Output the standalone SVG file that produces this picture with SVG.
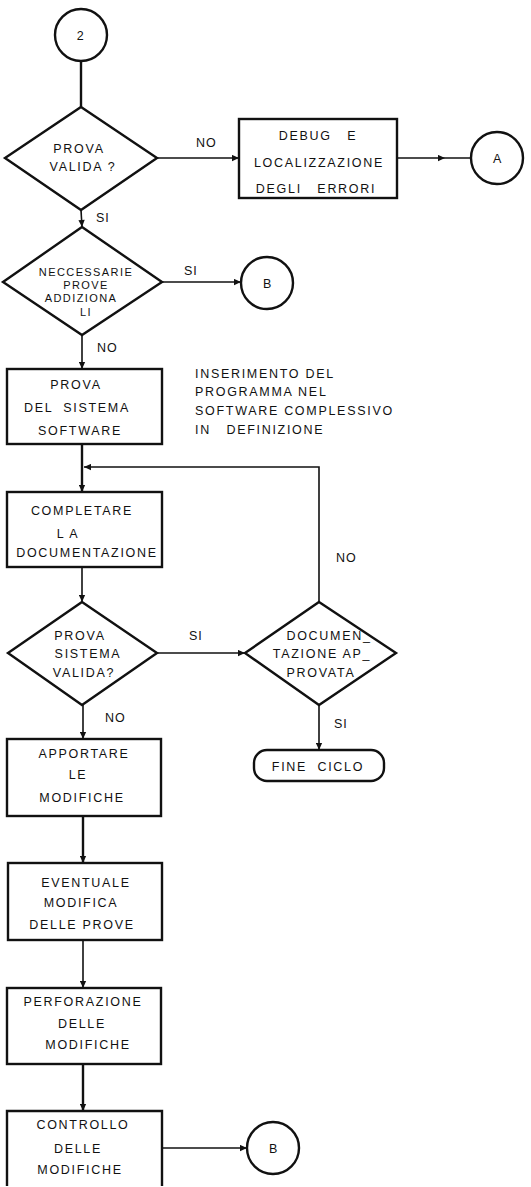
<svg xmlns="http://www.w3.org/2000/svg" width="531" height="1187" viewBox="0 0 531 1187">
<style>
.shape{fill:none;stroke:#111;stroke-width:2.4}
.conn{fill:none;stroke:#111;stroke-width:1.6}
.thick{stroke-width:2.4}
text{font-family:"Liberation Sans",Arial,sans-serif;font-size:12.5px;fill:#111;letter-spacing:1.7px;white-space:pre}
.c{text-anchor:middle}
.sm{font-size:11px;letter-spacing:1.4px}
.lbl{font-size:12.5px;letter-spacing:1px}
</style>
<defs>
<marker id="ah" viewBox="0 0 10 10" refX="10" refY="5" markerWidth="8" markerHeight="7" markerUnits="userSpaceOnUse" orient="auto"><path d="M0,0.5 L10,5 L0,9.5 z" fill="#111"/></marker>
</defs>
<rect width="531" height="1187" fill="#fff"/>

<g id="connectors">
<path class="conn thick" d="M81,61 L81,107"/>
<path class="conn" d="M157,158 L239,158" marker-end="url(#ah)"/>
<path class="conn" d="M397,158 L445,158 L471,158" marker-mid="url(#ah)"/>
<path class="conn" d="M81,210 L82,227" marker-end="url(#ah)"/>
<path class="conn" d="M162,282 L241,282" marker-end="url(#ah)"/>
<path class="conn" d="M82,335 L82,369" marker-end="url(#ah)"/>
<path class="conn thick" d="M82,444 L82,492" marker-end="url(#ah)"/>
<path class="conn" d="M319,602 L319,467 L84,467" marker-end="url(#ah)"/>
<path class="conn" d="M82,567 L82,602" marker-end="url(#ah)"/>
<path class="conn" d="M157,653 L245,653" marker-end="url(#ah)"/>
<path class="conn" d="M83,705 L83,739" marker-end="url(#ah)"/>
<path class="conn" d="M319,705 L319,750" marker-end="url(#ah)"/>
<path class="conn thick" d="M83,816 L83,863" marker-end="url(#ah)"/>
<path class="conn" d="M83,940 L83,988" marker-end="url(#ah)"/>
<path class="conn thick" d="M83,1064 L83,1111" marker-end="url(#ah)"/>
<path class="conn" d="M162,1148 L247,1148" marker-end="url(#ah)"/>
<text class="lbl" x="196" y="147">NO</text>
<text class="lbl" x="96" y="222">SI</text>
<text class="lbl" x="184" y="275">SI</text>
<text class="lbl" x="97" y="352">NO</text>
<text class="lbl" x="189" y="640">SI</text>
<text class="lbl" x="336" y="562">NO</text>
<text class="lbl" x="105" y="722">NO</text>
<text class="lbl" x="334" y="728">SI</text>
</g>

<g id="start2">
<circle class="shape" cx="81" cy="35" r="26"/>
<text class="c" x="81" y="40">2</text>
</g>

<g id="d1">
<path class="shape" d="M81,107 L157,158 L81,210 L5,158 Z"/>
<text class="c" x="79" y="153">PROVA</text>
<text class="c" x="83" y="171">VALIDA ?</text>
</g>

<g id="debug">
<rect class="shape" x="239" y="119" width="158" height="79"/>
<text class="c" x="318" y="140">DEBUG   E</text>
<text class="c" x="319" y="167">LOCALIZZAZIONE</text>
<text class="c" x="316" y="193">DEGLI   ERRORI</text>
</g>

<g id="connA">
<circle class="shape" cx="497" cy="158" r="26"/>
<text class="c" x="498" y="163">A</text>
</g>

<g id="d2">
<path class="shape" d="M82,227 L162,282 L82,335 L3,282 Z"/>
<text class="c sm" x="86" y="276">NECCESSARIE</text>
<text class="c sm" x="86" y="289">PROVE</text>
<text class="c sm" x="81" y="302">ADDIZIONA</text>
<text class="c sm" x="86" y="316">LI</text>
</g>

<g id="connB1">
<circle class="shape" cx="267" cy="283" r="26"/>
<text class="c" x="268" y="288">B</text>
</g>

<g id="provaSistema">
<rect class="shape" x="7" y="369" width="155" height="75"/>
<text class="c" x="76" y="389">PROVA</text>
<text class="c" x="77" y="412">DEL  SISTEMA</text>
<text class="c" x="80" y="435">SOFTWARE</text>
</g>

<g id="note">
<text x="195" y="378">INSERIMENTO DEL</text>
<text x="195" y="396">PROGRAMMA NEL</text>
<text x="195" y="415">SOFTWARE COMPLESSIVO</text>
<text x="195" y="434">IN   DEFINIZIONE</text>
</g>

<g id="completare">
<rect class="shape" x="7" y="492" width="155" height="75"/>
<text class="c" x="82" y="515">COMPLETARE</text>
<text class="c" x="68" y="538">L A</text>
<text class="c" x="87" y="557">DOCUMENTAZIONE</text>
</g>

<g id="d3">
<path class="shape" d="M82,602 L157,653 L82,705 L8,653 Z"/>
<text class="c" x="80" y="640">PROVA</text>
<text class="c" x="88" y="658">SISTEMA</text>
<text class="c" x="84" y="677">VALIDA?</text>
</g>

<g id="d4">
<path class="shape" d="M319,602 L396,653 L319,705 L245,653 Z"/>
<text class="c" x="329" y="640">DOCUMEN_</text>
<text class="c" x="322" y="658">TAZIONE AP_</text>
<text class="c" x="321" y="677">PROVATA</text>
</g>

<g id="fine">
<rect class="shape" x="254" y="750" width="130" height="31" rx="13"/>
<text class="c" x="318" y="771">FINE  CICLO</text>
</g>

<g id="apportare">
<rect class="shape" x="7" y="739" width="154" height="77"/>
<text class="c" x="84" y="758">APPORTARE</text>
<text class="c" x="78" y="779">LE</text>
<text class="c" x="82" y="802">MODIFICHE</text>
</g>

<g id="eventuale">
<rect class="shape" x="8" y="863" width="154" height="77"/>
<text class="c" x="86" y="887">EVENTUALE</text>
<text class="c" x="81" y="907">MODIFICA</text>
<text class="c" x="82" y="929">DELLE PROVE</text>
</g>

<g id="perforazione">
<rect class="shape" x="7" y="988" width="154" height="76"/>
<text class="c" x="83" y="1006">PERFORAZIONE</text>
<text class="c" x="82" y="1028">DELLE</text>
<text class="c" x="88" y="1049">MODIFICHE</text>
</g>

<g id="controllo">
<path class="shape" d="M7,1186 L7,1111 L162,1111 L162,1186"/>
<text class="c" x="83" y="1129">CONTROLLO</text>
<text class="c" x="78" y="1153">DELLE</text>
<text class="c" x="80" y="1174">MODIFICHE</text>
</g>

<g id="connB2">
<circle class="shape" cx="273" cy="1148" r="26"/>
<text class="c" x="274" y="1153">B</text>
</g>
</svg>
